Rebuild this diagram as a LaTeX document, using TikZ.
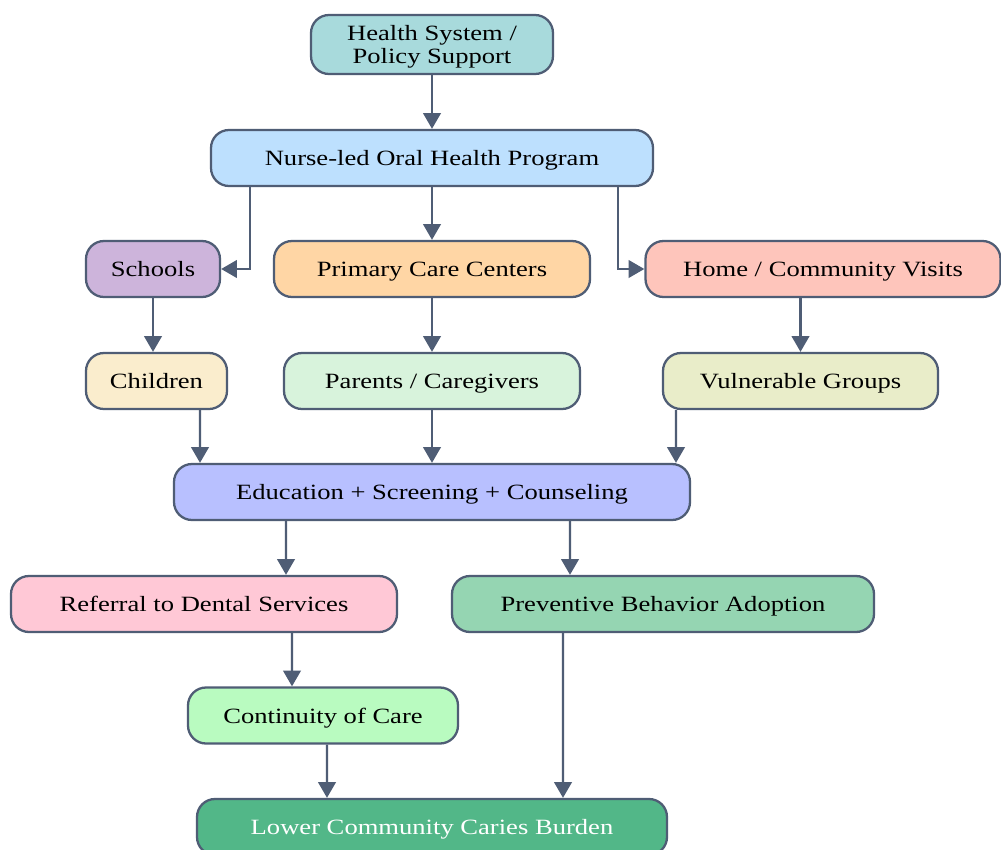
\documentclass[tikz,border=0pt]{standalone}
\usepackage{fontspec}
\setmainfont{Liberation Serif}[FakeStretch=1.22]
\usetikzlibrary{arrows.meta}

\definecolor{edgegray}{HTML}{4F5D75}
\definecolor{cHs}{HTML}{A8DADC}
\definecolor{cNurse}{HTML}{BDE0FE}
\definecolor{cSchools}{HTML}{CDB4DB}
\definecolor{cPrimary}{HTML}{FFD6A5}
\definecolor{cHome}{HTML}{FEC5BB}
\definecolor{cChildren}{HTML}{FAEDCD}
\definecolor{cParents}{HTML}{D8F3DC}
\definecolor{cVulnerable}{HTML}{E9EDC9}
\definecolor{cEdu}{HTML}{B8C0FF}
\definecolor{cReferral}{HTML}{FFC8D6}
\definecolor{cPreventive}{HTML}{95D5B2}
\definecolor{cContinuity}{HTML}{B9FBC0}
\definecolor{cLower}{HTML}{52B788}

\begin{document}
\begin{tikzpicture}[
                box/.style={draw=edgegray, line width=1.3pt, rounded corners=0.36cm,
                    minimum height=1.12cm, inner sep=0pt, align=center, text depth=0pt,
                    font=\fontsize{12.4}{12.6}\selectfont},
                arr/.style={draw=edgegray, line width=1.4pt,
                    -{Triangle[length=9pt,width=10pt]}},
            ]
            \useasboundingbox (0,0) rectangle (20.02,-17);
            \fill[white] (0,0) rectangle (20.02,-17);

            % top levels
            \node[box, fill=cHs, minimum width=4.84cm, minimum height=1.18cm] (hs) at (8.64,-0.89) {Health System /\\Policy Support};
            \node[box, fill=cNurse, minimum width=8.84cm] (nurse) at (8.64,-3.16) {Nurse-led Oral Health Program};

            % settings
            \node[box, fill=cSchools, minimum width=2.68cm] (schools) at (3.06,-5.38) {Schools};
            \node[box, fill=cPrimary, minimum width=6.32cm] (primary) at (8.64,-5.38) {Primary Care Centers};
            \node[box, fill=cHome, minimum width=7.1cm] (home) at (16.46,-5.38) {Home / Community Visits};

            % target groups
            \node[box, fill=cChildren, minimum width=2.82cm] (children) at (3.13,-7.62) {Children};
            \node[box, fill=cParents, minimum width=5.92cm] (parents) at (8.64,-7.62) {Parents / Caregivers};
            \node[box, fill=cVulnerable, minimum width=5.5cm] (vulnerable) at (16.01,-7.62) {Vulnerable Groups};

            % activities and outcomes
            \node[box, fill=cEdu, minimum width=10.32cm] (edu) at (8.64,-9.84) {Education + Screening + Counseling};
            \node[box, fill=cReferral, minimum width=7.72cm] (referral) at (4.08,-12.08) {Referral to Dental Services};
            \node[box, fill=cPreventive, minimum width=8.44cm] (preventive) at (13.26,-12.08) {Preventive Behavior Adoption};
            \node[box, fill=cContinuity, minimum width=5.4cm] (continuity) at (6.46,-14.31) {Continuity of Care};
            \node[box, fill=cLower, text=white, minimum width=9.4cm] (lower) at (8.64,-16.54) {Lower Community Caries Burden};

            % connectors
            \draw[arr] (hs) -- (nurse);
            \draw[arr] ([xshift=-3.64cm]nurse.south) |- (schools.east);
            \draw[arr] (nurse) -- (primary);
            \draw[arr] ([xshift=3.72cm]nurse.south) |- (home.west);
            \draw[arr] (schools.south) -- (schools.south |- children.north);
            \draw[arr] (primary) -- (parents);
            \draw[arr] (home.south -| vulnerable.north) -- (vulnerable.north);
            \draw[arr] ([xshift=0.87cm]children.south) -- ([xshift=-4.64cm]edu.north);
            \draw[arr] (parents) -- (edu);
            \draw[arr] ([xshift=-2.49cm]vulnerable.south) -- ([xshift=4.88cm]edu.north);
            \draw[arr] ([xshift=-2.92cm]edu.south) -- ([xshift=1.64cm]referral.north);
            \draw[arr] ([xshift=2.76cm]edu.south) -- ([xshift=-1.86cm]preventive.north);
            \draw[arr] ([xshift=1.76cm]referral.south) -- ([xshift=-0.62cm]continuity.north);
            \draw[arr] ([xshift=0.08cm]continuity.south) -- ([xshift=-2.1cm]lower.north);
            \draw[arr] ([xshift=-2cm]preventive.south) -- ([xshift=2.62cm]lower.north);
            \end{tikzpicture}
\end{document}
